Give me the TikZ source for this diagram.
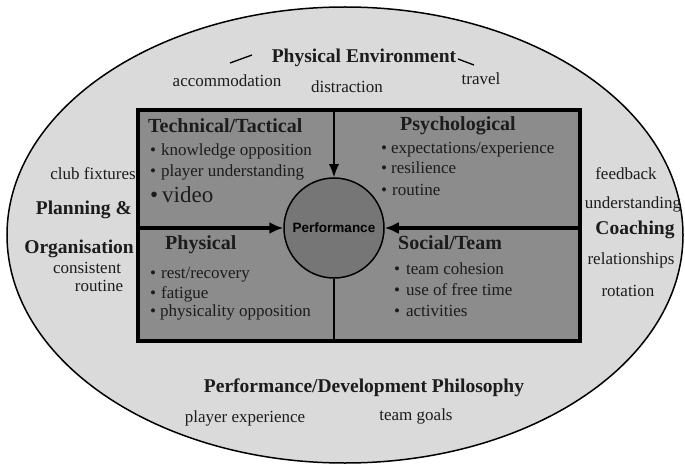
\documentclass[tikz,border=0pt]{standalone}
\usepackage{fontspec}
\setmainfont{Liberation Serif}
\newfontfamily\perffont{Liberation Sans}
\usepackage{tikz}
\usetikzlibrary{positioning, arrows.meta, shapes.geometric}
\definecolor{fondo}{RGB}{218, 218, 218}
\definecolor{cuadro}{RGB}{140, 140, 140}
\definecolor{centro}{RGB}{118, 118, 118}
\definecolor{tinta}{RGB}{28, 28, 28}
\tikzset{
    outer/.style={draw, ellipse, fill=fondo, line width=1.5pt, inner sep=0pt, minimum width=676pt, minimum height=456pt},
    quad/.style={draw, rectangle, fill=cuadro, line width=3.5pt, inner sep=0pt, minimum width=442pt, minimum height=231pt},
    perf/.style={draw, circle, fill=centro, line width=1.5pt, inner sep=0pt, minimum size=100pt, font=\perffont\bfseries\fontsize{13.5}{15}\selectfont},
    head/.style={anchor=mid west, text=tinta, inner sep=0pt, font=\bfseries\fontsize{20}{22}\selectfont},
    item/.style={anchor=mid west, text=tinta, inner sep=0pt, font=\fontsize{17}{19}\selectfont},
    side/.style={anchor=mid, text=tinta, inner sep=0pt, font=\fontsize{17}{19}\selectfont},
    sidehead/.style={anchor=mid, text=tinta, inner sep=0pt, font=\bfseries\fontsize{19.5}{21}\selectfont},
    conn/.style={-{Latex[length=13pt, width=10pt]}, line width=1.3pt},
    bigconn/.style={-{Latex[length=14pt, width=12pt]}, line width=3.2pt},
}

\begin{document}
\begin{tikzpicture}[x=1pt, y=-1pt]
        \useasboundingbox (0,0) rectangle (685,465);

        \node [outer] (env) at (345,235) {};
        \node [quad] (box) at (359,225.5) {};
        \node [perf] (p) at (334,228) {Performance};

        \draw [conn] (p.north |- box.north) -- (p.north);
        \draw [line width=1.3pt] (p.south) -- (p.south |- box.south);
        \draw [bigconn] (box.west |- p) -- (p.west);
        \draw [bigconn] (box.east |- p) -- (p.east);

        \node [sidehead] (penv) at (364,60) {Physical Environment};
        \node [side] (acc) at (227,84) {accommodation};
        \node [side] (dis) at (347,90) {distraction};
        \node [side] (tra) at (481,82) {travel};
        \draw [line width=1.3pt] (230,63) -- (252,55);
        \draw [line width=1.3pt] (458,59) -- (474,65);

        \node [head] (tech) at (148,130) {Technical/Tactical};
        \node [item] (tech1) at (150,153) {\textbullet\hspace{5pt}knowledge opposition};
        \node [item] (tech2) at (150,174) {\textbullet\hspace{5pt}player understanding};
        \node [item, font=\fontsize{23}{25}\selectfont] (tech3) at (150,200) {\textbullet\hspace{4pt}video};

        \node [head] (psy) at (400,128) {Psychological};
        \node [item] (psy1) at (381,151) {\textbullet\hspace{4pt}expectations/experience};
        \node [item] (psy2) at (381,171) {\textbullet\hspace{4pt}resilience};
        \node [item] (psy3) at (381,193) {\textbullet\hspace{5pt}routine};

        \node [head] (phy) at (165,247) {Physical};
        \node [item] (phy1) at (150,276) {\textbullet\hspace{5pt}rest/recovery};
        \node [item] (phy2) at (150,296) {\textbullet\hspace{5pt}fatigue};
        \node [item] (phy3) at (150,314) {\textbullet\hspace{4pt}physicality opposition};

        \node [head] (soc) at (398,247) {Social/Team};
        \node [item] (soc1) at (394,272) {\textbullet\hspace{6pt}team cohesion};
        \node [item] (soc2) at (394,293) {\textbullet\hspace{6pt}use of free time};
        \node [item] (soc3) at (394,314) {\textbullet\hspace{6pt}activities};

        \node [side, anchor=mid east] (club) at (136,177) {club fixtures};
        \node [sidehead, anchor=mid east] (plan) at (132,212) {Planning \&};
        \node [sidehead, anchor=mid east] (org) at (134,251) {Organisation};
        \node [side] (cons) at (87,271) {consistent};
        \node [side] (rout) at (99,289) {routine};

        \node [side] (feed) at (626,177) {feedback};
        \node [side] (und) at (633,206) {understanding};
        \node [sidehead] (coach) at (635,232) {Coaching};
        \node [side] (rel) at (631,262) {relationships};
        \node [side] (rot) at (628,294) {rotation};

        \node [sidehead] (phil) at (364,390) {Performance/Development Philosophy};
        \node [side] (pexp) at (245,420) {player experience};
        \node [side] (goals) at (416,418) {team goals};
    \end{tikzpicture}
\end{document}
